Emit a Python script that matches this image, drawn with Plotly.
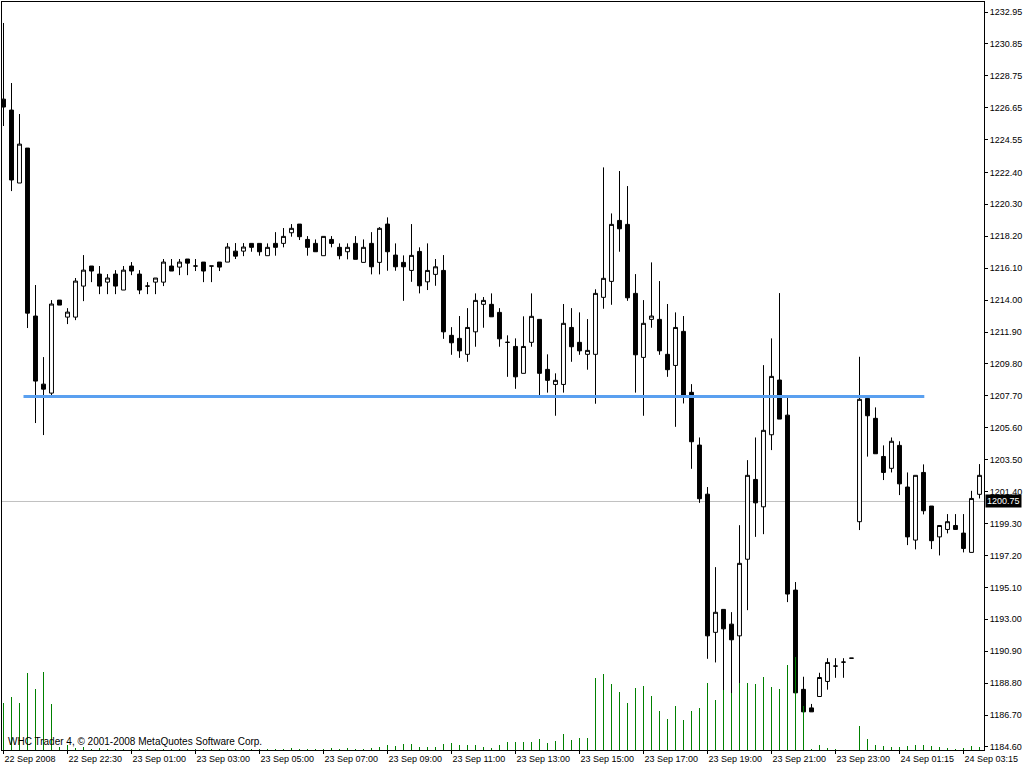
import plotly.graph_objects as go

# ---- data (M15 bars) ----
opens = [1227.22, 1226.50, 1221.70, 1224.00, 1212.95, 1208.47, 1207.88, 1214.00, 1212.88, 1212.88,
         1214.92, 1216.24, 1215.71, 1215.18, 1215.71, 1214.66, 1216.24, 1215.71, 1214.92, 1215.18,
         1215.18, 1216.24, 1216.17, 1216.70, 1216.24, 1216.50, 1216.24, 1216.50, 1216.50, 1217.22,
         1217.22, 1217.73, 1217.73, 1216.92, 1217.73, 1217.73, 1218.43, 1219.00, 1217.99, 1217.73,
         1216.92, 1217.99, 1217.47, 1217.18, 1217.73, 1216.48, 1217.73, 1216.48, 1219.00, 1216.96,
         1216.48, 1215.95, 1217.20, 1215.20, 1215.69, 1215.95, 1211.68, 1211.48, 1210.43, 1211.91,
         1213.72, 1213.72, 1213.19, 1211.22, 1210.95, 1209.18, 1211.22, 1212.73, 1209.44, 1208.45,
         1208.45, 1212.20, 1211.22, 1210.43, 1210.43, 1214.18, 1215.23, 1219.24, 1218.98, 1214.44,
         1210.23, 1212.73, 1212.73, 1210.43, 1209.70, 1211.94, 1207.93, 1204.46, 1201.23, 1192.14,
         1193.65, 1192.68, 1191.91, 1196.95, 1202.20, 1200.40, 1205.14, 1208.74, 1206.43, 1194.92,
         1188.39, 1187.17, 1187.92, 1188.91, 1189.92, 1190.18, 1190.44, 1199.42, 1207.53, 1206.22,
         1203.71, 1202.93, 1204.44, 1201.70, 1198.21, 1202.66, 1200.45, 1198.42, 1198.91, 1199.17,
         1198.67, 1197.40, 1201.22]
highs = [1232.23, 1228.28, 1226.24, 1224.00, 1214.99, 1210.25, 1214.00, 1214.00, 1213.47, 1215.45,
         1216.96, 1216.24, 1216.24, 1215.71, 1215.97, 1216.24, 1216.50, 1215.97, 1215.18, 1215.45,
         1216.70, 1216.70, 1216.70, 1216.70, 1216.70, 1216.50, 1216.24, 1216.50, 1217.75, 1217.75,
         1217.75, 1217.73, 1217.73, 1217.73, 1218.47, 1218.74, 1219.00, 1219.00, 1218.21, 1217.99,
         1218.19, 1218.21, 1217.73, 1217.73, 1218.21, 1217.99, 1218.47, 1218.80, 1219.44, 1217.73,
         1216.94, 1219.00, 1217.47, 1217.73, 1216.70, 1216.96, 1212.22, 1212.95, 1213.47, 1214.44,
         1214.20, 1214.44, 1213.47, 1211.68, 1211.48, 1212.93, 1214.44, 1212.73, 1210.43, 1209.18,
         1213.74, 1213.47, 1213.19, 1212.75, 1214.71, 1222.73, 1219.70, 1222.49, 1221.50, 1215.71,
         1214.00, 1216.48, 1215.25, 1213.74, 1213.19, 1212.95, 1208.47, 1204.96, 1201.70, 1196.43,
         1193.65, 1193.47, 1199.19, 1203.47, 1204.96, 1209.72, 1211.48, 1214.46, 1207.57, 1195.45,
         1189.22, 1187.43, 1189.48, 1190.44, 1190.44, 1190.44, 1190.44, 1210.27, 1207.53, 1206.94,
         1204.44, 1204.96, 1204.71, 1202.66, 1202.47, 1203.19, 1200.45, 1199.17, 1199.92, 1199.92,
         1199.92, 1201.45, 1203.21]
lows = [1225.45, 1221.17, 1221.70, 1212.16, 1205.91, 1205.12, 1207.75, 1213.67, 1212.42, 1212.68,
        1213.93, 1215.18, 1214.39, 1214.39, 1214.39, 1214.66, 1215.64, 1214.39, 1214.39, 1214.39,
        1214.92, 1215.91, 1215.64, 1215.64, 1215.91, 1215.18, 1215.18, 1215.91, 1216.50, 1216.70,
        1216.89, 1217.18, 1216.92, 1216.92, 1216.92, 1217.47, 1218.17, 1217.95, 1216.92, 1217.18,
        1216.92, 1217.47, 1216.68, 1216.68, 1216.68, 1216.48, 1215.69, 1215.69, 1215.93, 1215.93,
        1213.95, 1215.20, 1214.44, 1214.66, 1214.94, 1211.45, 1210.40, 1210.20, 1209.94, 1210.93,
        1212.18, 1212.90, 1210.93, 1208.95, 1208.16, 1209.18, 1210.93, 1207.75, 1207.91, 1206.39,
        1207.91, 1209.94, 1210.40, 1209.42, 1207.18, 1213.43, 1213.69, 1217.18, 1213.95, 1207.91,
        1206.39, 1212.18, 1210.40, 1208.95, 1205.66, 1207.20, 1202.90, 1200.66, 1190.40, 1190.16,
        1188.34, 1188.12, 1188.79, 1193.60, 1198.42, 1198.60, 1204.13, 1206.17, 1194.13, 1188.16,
        1186.91, 1186.91, 1187.92, 1188.37, 1189.15, 1189.15, 1190.44, 1198.87, 1203.70, 1203.89,
        1202.16, 1202.66, 1201.17, 1197.88, 1197.60, 1199.90, 1197.62, 1197.20, 1198.65, 1198.91,
        1197.40, 1197.40, 1200.95]
closes = [1226.70, 1221.90, 1224.26, 1213.14, 1208.67, 1208.14, 1213.74, 1213.67, 1213.21, 1215.25,
          1215.97, 1215.91, 1214.92, 1215.45, 1214.92, 1215.97, 1215.91, 1214.66, 1214.92, 1215.45,
          1216.50, 1215.91, 1216.50, 1216.43, 1216.24, 1215.91, 1216.24, 1216.17, 1217.49, 1216.89,
          1217.49, 1217.47, 1217.18, 1217.47, 1217.47, 1218.19, 1218.72, 1218.17, 1217.47, 1217.18,
          1218.19, 1217.73, 1216.92, 1217.47, 1216.68, 1217.47, 1216.19, 1218.72, 1217.18, 1216.19,
          1216.19, 1216.94, 1214.94, 1215.95, 1216.19, 1211.91, 1211.19, 1210.66, 1212.20, 1213.98,
          1213.98, 1212.90, 1211.45, 1211.22, 1208.95, 1210.95, 1212.93, 1209.18, 1208.72, 1208.72,
          1212.47, 1210.93, 1210.66, 1210.69, 1214.44, 1215.43, 1218.98, 1218.69, 1214.15, 1210.40,
          1212.47, 1212.95, 1210.66, 1209.42, 1212.20, 1207.68, 1204.68, 1200.93, 1191.91, 1193.46,
          1192.37, 1191.65, 1196.68, 1202.47, 1200.66, 1205.43, 1208.98, 1206.17, 1194.66, 1188.16,
          1186.91, 1186.91, 1189.17, 1190.16, 1189.92, 1190.18, 1190.44, 1207.47, 1206.39, 1203.89,
          1202.66, 1204.71, 1201.91, 1198.42, 1202.47, 1200.14, 1198.17, 1199.17, 1199.42, 1198.91,
          1197.66, 1200.95, 1202.47]
volumes = [47, 53, 47, 77, 61, 78, 46, 3, 5, 2,
           3, 1, 2, 1, 1, 1, 1, 1, 1, 1,
           1, 1, 1, 1, 1, 1, 1, 1, 1, 1,
           1, 1, 1, 1, 1, 1, 2, 1, 1, 1,
           1, 2, 1, 2, 1, 1, 2, 3, 5, 4,
           6, 6, 3, 3, 3, 6, 7, 5, 5, 5,
           3, 2, 5, 8, 8, 8, 8, 11, 7, 9,
           16, 10, 12, 12, 72, 76, 66, 58, 47, 62,
           64, 54, 39, 31, 44, 30, 39, 42, 67, 50,
           60, 57, 67, 67, 66, 73, 63, 61, 85, 93,
           44, 1, 5, 2, 1, 0, 0, 24, 11, 5,
           4, 3, 3, 4, 5, 5, 4, 3, 2, 1,
           2, 4, 3]

time_tick_bars = [0, 8, 16, 24, 32, 40, 48, 56, 64, 72, 80, 88, 96, 104, 112, 120]
time_tick_labels = ["22 Sep 2008", "22 Sep 22:30", "23 Sep 01:00", "23 Sep 03:00",
                    "23 Sep 05:00", "23 Sep 07:00", "23 Sep 09:00", "23 Sep 11:00",
                    "23 Sep 13:00", "23 Sep 15:00", "23 Sep 17:00", "23 Sep 19:00",
                    "23 Sep 21:00", "23 Sep 23:00", "24 Sep 01:15", "24 Sep 03:15"]
price_ticks = [1232.95, 1230.85, 1228.75, 1226.65, 1224.55, 1222.40, 1220.30, 1218.20,
               1216.10, 1214.00, 1211.90, 1209.80, 1207.70, 1205.60, 1203.50, 1201.40,
               1199.30, 1197.20, 1195.10, 1193.00, 1190.90, 1188.80, 1186.70, 1184.60]

bid_price = 1200.75
level_price = 1207.65
level_start_bar = 2.5
level_end_bar = 115.1
copyright_text = "WHC Trader 4, © 2001-2008 MetaQuotes Software Corp."

bars = list(range(len(opens)))

FONT = "Liberation Sans"
FS = 9

fig = go.Figure()
fig.add_trace(go.Candlestick(
    x=bars, open=opens, high=highs, low=lows, close=closes,
    increasing=dict(fillcolor="white", line=dict(color="black", width=1)),
    decreasing=dict(fillcolor="black", line=dict(color="black", width=1)),
    whiskerwidth=0, showlegend=False, hoverinfo="skip",
))
fig.add_trace(go.Bar(
    x=bars, y=volumes, width=0.11, marker=dict(color="#008000", line=dict(width=0)),
    yaxis="y2", showlegend=False, hoverinfo="skip",
))

fig.add_shape(type="line", xref="paper", x0=0, x1=1, yref="y", y0=bid_price, y1=bid_price,
              line=dict(color="#C0C0C0", width=1), layer="below")
fig.add_shape(type="line", xref="x", x0=level_start_bar, x1=level_end_bar, yref="y",
              y0=level_price, y1=level_price, line=dict(color="#5AA0F0", width=3))

fig.add_annotation(xref="paper", x=1, xanchor="left", xshift=1, yref="y", y=bid_price,
                   text=f"{bid_price:.2f}", showarrow=False, bgcolor="black",
                   font=dict(family=FONT, size=FS, color="white"), borderpad=1)
fig.add_annotation(xref="paper", x=0, xanchor="left", xshift=4, yref="paper", y=0,
                   yanchor="bottom", yshift=1, text=copyright_text, showarrow=False,
                   font=dict(family=FONT, size=10, color="black"))

fig.update_layout(
    width=1024, height=768,
    margin=dict(l=2, r=40, t=2, b=18, autoexpand=False),
    paper_bgcolor="white", plot_bgcolor="white",
    font=dict(family=FONT, size=FS, color="black"),
    bargap=0,
    xaxis=dict(
        range=[-0.1875, 122.5625], rangeslider=dict(visible=False), automargin=False,
        tickmode="array", tickvals=time_tick_bars, ticktext=time_tick_labels,
        ticks="outside", ticklen=3, tickcolor="black", ticklabelposition="outside right",
        showgrid=False, zeroline=False, showline=True, linecolor="black", linewidth=1,
        mirror=True, tickfont=dict(family=FONT, size=FS, color="black"),
    ),
    yaxis=dict(
        range=[1184.40, 1233.61], side="right", automargin=False,
        tickmode="array", tickvals=price_ticks, ticktext=[f"{p:.2f}" for p in price_ticks],
        ticks="outside", ticklen=3, tickcolor="black",
        showgrid=False, zeroline=False, showline=True, linecolor="black", linewidth=1,
        mirror=True, tickfont=dict(family=FONT, size=FS, color="black"),
    ),
    yaxis2=dict(overlaying="y", range=[0, 748], visible=False, fixedrange=True),
)

fig.write_html(
    "out.html",
    config={"displayModeBar": False},
    post_script="document.body.style.margin='0';document.body.style.overflow='hidden';",
)
